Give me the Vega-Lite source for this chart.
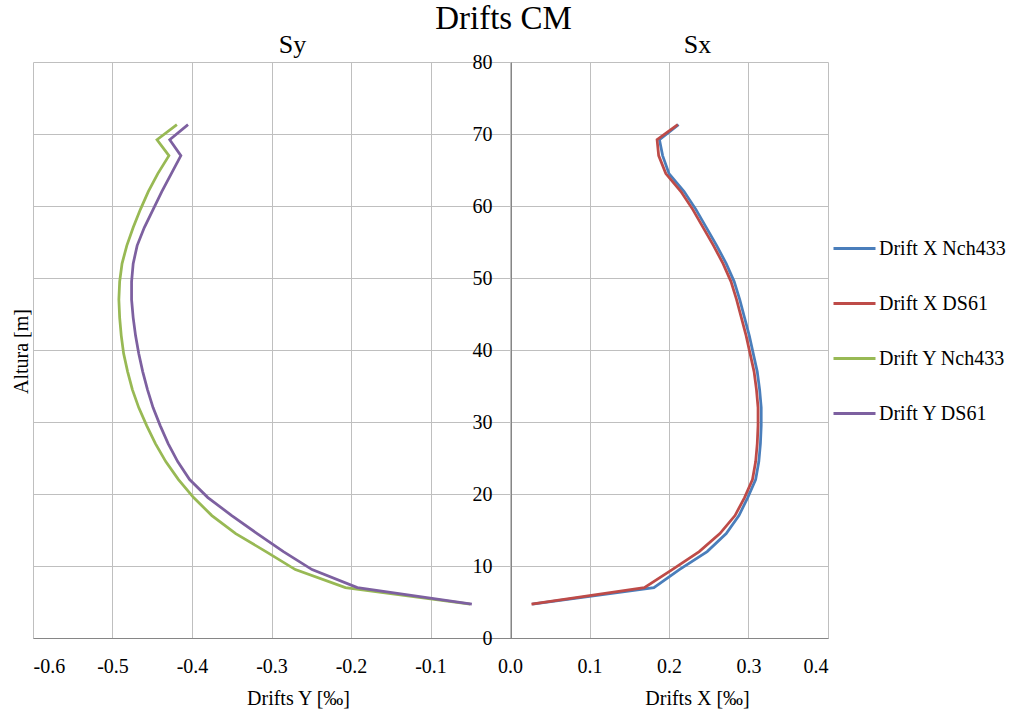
{
  "$schema": "https://vega.github.io/schema/vega-lite/v6.json",
  "width": 795,
  "height": 576,
  "autosize": {"type": "none"},
  "padding": {"left": 33, "top": 62, "right": 192, "bottom": 78},
  "background": "white",
  "title": {"text": "Drifts CM", "fontSize": 33, "font": "Liberation Serif, Times New Roman, serif", "fontWeight": "normal", "color": "black", "anchor": "middle", "frame": "group", "dx": 73, "dy": 35, "baseline": "alphabetic"},
  "datasets": {
    "d": [
      {"serie": "Drift X Nch433", "h": 4.7, "v": 0.028}, {"serie": "Drift X Nch433", "h": 7.0, "v": 0.181}, {"serie": "Drift X Nch433", "h": 9.5, "v": 0.213}, {"serie": "Drift X Nch433", "h": 12.0, "v": 0.248}, {"serie": "Drift X Nch433", "h": 14.5, "v": 0.272}, {"serie": "Drift X Nch433", "h": 17.0, "v": 0.288}, {"serie": "Drift X Nch433", "h": 19.5, "v": 0.299}, {"serie": "Drift X Nch433", "h": 22.0, "v": 0.309}, {"serie": "Drift X Nch433", "h": 24.5, "v": 0.313}, {"serie": "Drift X Nch433", "h": 27.0, "v": 0.315}, {"serie": "Drift X Nch433", "h": 29.5, "v": 0.316}, {"serie": "Drift X Nch433", "h": 32.0, "v": 0.316}, {"serie": "Drift X Nch433", "h": 34.5, "v": 0.314}, {"serie": "Drift X Nch433", "h": 37.0, "v": 0.311}, {"serie": "Drift X Nch433", "h": 39.5, "v": 0.306}, {"serie": "Drift X Nch433", "h": 42.0, "v": 0.301}, {"serie": "Drift X Nch433", "h": 44.5, "v": 0.295}, {"serie": "Drift X Nch433", "h": 47.0, "v": 0.289}, {"serie": "Drift X Nch433", "h": 49.5, "v": 0.282}, {"serie": "Drift X Nch433", "h": 52.0, "v": 0.272}, {"serie": "Drift X Nch433", "h": 54.5, "v": 0.260}, {"serie": "Drift X Nch433", "h": 57.0, "v": 0.247}, {"serie": "Drift X Nch433", "h": 59.5, "v": 0.234}, {"serie": "Drift X Nch433", "h": 62.0, "v": 0.219}, {"serie": "Drift X Nch433", "h": 64.5, "v": 0.200}, {"serie": "Drift X Nch433", "h": 67.0, "v": 0.192}, {"serie": "Drift X Nch433", "h": 69.2, "v": 0.188}, {"serie": "Drift X Nch433", "h": 71.3, "v": 0.212},
      {"serie": "Drift X DS61", "h": 4.7, "v": 0.027}, {"serie": "Drift X DS61", "h": 7.0, "v": 0.169}, {"serie": "Drift X DS61", "h": 9.5, "v": 0.204}, {"serie": "Drift X DS61", "h": 12.0, "v": 0.238}, {"serie": "Drift X DS61", "h": 14.5, "v": 0.264}, {"serie": "Drift X DS61", "h": 17.0, "v": 0.283}, {"serie": "Drift X DS61", "h": 19.5, "v": 0.295}, {"serie": "Drift X DS61", "h": 22.0, "v": 0.305}, {"serie": "Drift X DS61", "h": 24.5, "v": 0.309}, {"serie": "Drift X DS61", "h": 27.0, "v": 0.311}, {"serie": "Drift X DS61", "h": 29.5, "v": 0.312}, {"serie": "Drift X DS61", "h": 32.0, "v": 0.312}, {"serie": "Drift X DS61", "h": 34.5, "v": 0.310}, {"serie": "Drift X DS61", "h": 37.0, "v": 0.307}, {"serie": "Drift X DS61", "h": 39.5, "v": 0.302}, {"serie": "Drift X DS61", "h": 42.0, "v": 0.297}, {"serie": "Drift X DS61", "h": 44.5, "v": 0.291}, {"serie": "Drift X DS61", "h": 47.0, "v": 0.285}, {"serie": "Drift X DS61", "h": 49.5, "v": 0.278}, {"serie": "Drift X DS61", "h": 52.0, "v": 0.268}, {"serie": "Drift X DS61", "h": 54.5, "v": 0.256}, {"serie": "Drift X DS61", "h": 57.0, "v": 0.243}, {"serie": "Drift X DS61", "h": 59.5, "v": 0.230}, {"serie": "Drift X DS61", "h": 62.0, "v": 0.215}, {"serie": "Drift X DS61", "h": 64.5, "v": 0.196}, {"serie": "Drift X DS61", "h": 67.0, "v": 0.187}, {"serie": "Drift X DS61", "h": 69.2, "v": 0.185}, {"serie": "Drift X DS61", "h": 71.3, "v": 0.211},
      {"serie": "Drift Y Nch433", "h": 4.7, "v": -0.050}, {"serie": "Drift Y Nch433", "h": 7.0, "v": -0.207}, {"serie": "Drift Y Nch433", "h": 9.5, "v": -0.270}, {"serie": "Drift Y Nch433", "h": 12.0, "v": -0.307}, {"serie": "Drift Y Nch433", "h": 14.5, "v": -0.345}, {"serie": "Drift Y Nch433", "h": 17.0, "v": -0.375}, {"serie": "Drift Y Nch433", "h": 19.5, "v": -0.398}, {"serie": "Drift Y Nch433", "h": 22.0, "v": -0.417}, {"serie": "Drift Y Nch433", "h": 24.5, "v": -0.433}, {"serie": "Drift Y Nch433", "h": 27.0, "v": -0.446}, {"serie": "Drift Y Nch433", "h": 29.5, "v": -0.457}, {"serie": "Drift Y Nch433", "h": 32.0, "v": -0.467}, {"serie": "Drift Y Nch433", "h": 34.5, "v": -0.475}, {"serie": "Drift Y Nch433", "h": 37.0, "v": -0.481}, {"serie": "Drift Y Nch433", "h": 39.5, "v": -0.486}, {"serie": "Drift Y Nch433", "h": 42.0, "v": -0.489}, {"serie": "Drift Y Nch433", "h": 44.5, "v": -0.491}, {"serie": "Drift Y Nch433", "h": 47.0, "v": -0.492}, {"serie": "Drift Y Nch433", "h": 49.5, "v": -0.491}, {"serie": "Drift Y Nch433", "h": 52.0, "v": -0.488}, {"serie": "Drift Y Nch433", "h": 54.5, "v": -0.482}, {"serie": "Drift Y Nch433", "h": 57.0, "v": -0.474}, {"serie": "Drift Y Nch433", "h": 59.5, "v": -0.465}, {"serie": "Drift Y Nch433", "h": 62.0, "v": -0.455}, {"serie": "Drift Y Nch433", "h": 64.5, "v": -0.443}, {"serie": "Drift Y Nch433", "h": 67.0, "v": -0.429}, {"serie": "Drift Y Nch433", "h": 69.2, "v": -0.444}, {"serie": "Drift Y Nch433", "h": 71.3, "v": -0.419},
      {"serie": "Drift Y DS61", "h": 4.7, "v": -0.048}, {"serie": "Drift Y DS61", "h": 7.0, "v": -0.192}, {"serie": "Drift Y DS61", "h": 9.5, "v": -0.249}, {"serie": "Drift Y DS61", "h": 12.0, "v": -0.285}, {"serie": "Drift Y DS61", "h": 14.5, "v": -0.318}, {"serie": "Drift Y DS61", "h": 17.0, "v": -0.350}, {"serie": "Drift Y DS61", "h": 19.5, "v": -0.380}, {"serie": "Drift Y DS61", "h": 22.0, "v": -0.403}, {"serie": "Drift Y DS61", "h": 24.5, "v": -0.418}, {"serie": "Drift Y DS61", "h": 27.0, "v": -0.430}, {"serie": "Drift Y DS61", "h": 29.5, "v": -0.440}, {"serie": "Drift Y DS61", "h": 32.0, "v": -0.449}, {"serie": "Drift Y DS61", "h": 34.5, "v": -0.456}, {"serie": "Drift Y DS61", "h": 37.0, "v": -0.462}, {"serie": "Drift Y DS61", "h": 39.5, "v": -0.467}, {"serie": "Drift Y DS61", "h": 42.0, "v": -0.471}, {"serie": "Drift Y DS61", "h": 44.5, "v": -0.474}, {"serie": "Drift Y DS61", "h": 47.0, "v": -0.476}, {"serie": "Drift Y DS61", "h": 49.5, "v": -0.476}, {"serie": "Drift Y DS61", "h": 52.0, "v": -0.474}, {"serie": "Drift Y DS61", "h": 54.5, "v": -0.469}, {"serie": "Drift Y DS61", "h": 57.0, "v": -0.460}, {"serie": "Drift Y DS61", "h": 59.5, "v": -0.449}, {"serie": "Drift Y DS61", "h": 62.0, "v": -0.438}, {"serie": "Drift Y DS61", "h": 64.5, "v": -0.426}, {"serie": "Drift Y DS61", "h": 67.0, "v": -0.414}, {"serie": "Drift Y DS61", "h": 69.2, "v": -0.428}, {"serie": "Drift Y DS61", "h": 71.3, "v": -0.405}
    ]
  },
  "data": {"name": "d"},
  "layer": [
    {
      "transform": [{"filter": {"field": "serie", "oneOf": ["Drift Y Nch433", "Drift Y DS61"]}}],
      "mark": {"type": "line", "strokeWidth": 2.75},
      "encoding": {
        "x": {"field": "v", "type": "quantitative", "scale": {"domain": [-0.6, 0.4], "nice": false, "zero": false},
          "axis": {"orient": "bottom", "values": [-0.6, -0.5, -0.4, -0.3, -0.2, -0.1, 0, 0.1, 0.2, 0.3, 0.4], "labelExpr": "replace(format(datum.value, '.1f'), '\u2212', '-')", "ticks": false, "labelPadding": 18, "grid": true, "gridColor": "#bfbfbf", "gridWidth": 1, "domainColor": "#868686", "title": "Drifts Y [‰]", "titleX": 265, "titleY": 66, "titleBaseline": "alphabetic", "titleAlign": "center"}},
        "y": {"field": "h", "type": "quantitative", "scale": {"domain": [0, 80], "nice": false},
          "axis": {"orient": "left", "offset": -478, "values": [0, 10, 20, 30, 40, 50, 60, 70, 80], "ticks": false, "labelPadding": 19, "grid": true, "gridColor": "#bfbfbf", "gridWidth": 1, "domainColor": "#868686", "title": "Altura [m]", "titleX": -480, "titleY": 289, "titleAngle": -90, "titleAlign": "center", "titleBaseline": "bottom"}},
        "color": {"field": "serie", "type": "nominal",
          "scale": {"domain": ["Drift X Nch433", "Drift X DS61", "Drift Y Nch433", "Drift Y DS61"], "range": ["#4A7EBB", "#BE4B48", "#98B954", "#7D60A0"]},
          "legend": {"orient": "none", "legendX": 799, "legendY": 164, "title": null, "symbolType": "stroke", "symbolSize": 1764, "symbolStrokeWidth": 3, "labelFontSize": 20, "labelFont": "Liberation Serif, Times New Roman, serif", "labelColor": "black", "rowPadding": 22, "labelOffset": 2, "direction": "vertical"}},
        "order": {"field": "h", "type": "quantitative"}
      }
    },
    {
      "transform": [{"filter": {"field": "serie", "oneOf": ["Drift X Nch433", "Drift X DS61"]}}],
      "mark": {"type": "line", "strokeWidth": 2.75},
      "encoding": {
        "x": {"field": "v", "type": "quantitative",
          "axis": {"orient": "bottom", "labels": false, "ticks": false, "domain": false, "grid": false, "title": "Drifts X [‰]", "titleX": 664, "titleY": 66, "titleBaseline": "alphabetic", "titleAlign": "center"}},
        "y": {"field": "h", "type": "quantitative", "axis": null},
        "color": {"field": "serie", "type": "nominal"},
        "order": {"field": "h", "type": "quantitative"}
      }
    },
    {
      "mark": {"type": "point", "opacity": 0},
      "encoding": {
        "x": {"field": "v", "type": "quantitative",
          "axis": {"orient": "top", "labels": false, "ticks": false, "domain": false, "grid": false, "title": "Sy", "titleFontSize": 26, "titleX": 259, "titleY": -10, "titleBaseline": "alphabetic", "titleAlign": "center"}},
        "y": {"field": "h", "type": "quantitative", "axis": null}
      }
    },
    {
      "mark": {"type": "point", "opacity": 0},
      "encoding": {
        "x": {"field": "v", "type": "quantitative",
          "axis": {"orient": "top", "labels": false, "ticks": false, "domain": false, "grid": false, "title": "Sx", "titleFontSize": 26, "titleX": 664, "titleY": -10, "titleBaseline": "alphabetic", "titleAlign": "center"}},
        "y": {"field": "h", "type": "quantitative", "axis": null}
      }
    }
  ],
  "resolve": {"axis": {"x": "independent", "y": "independent"}},
  "config": {
    "view": {"stroke": null},
    "font": "Liberation Serif, Times New Roman, serif",
    "axis": {"labelFont": "Liberation Serif, Times New Roman, serif", "labelFontSize": 20, "labelColor": "black", "titleFont": "Liberation Serif, Times New Roman, serif", "titleFontSize": 20, "titleFontWeight": "normal", "titleColor": "black"}
  }
}
